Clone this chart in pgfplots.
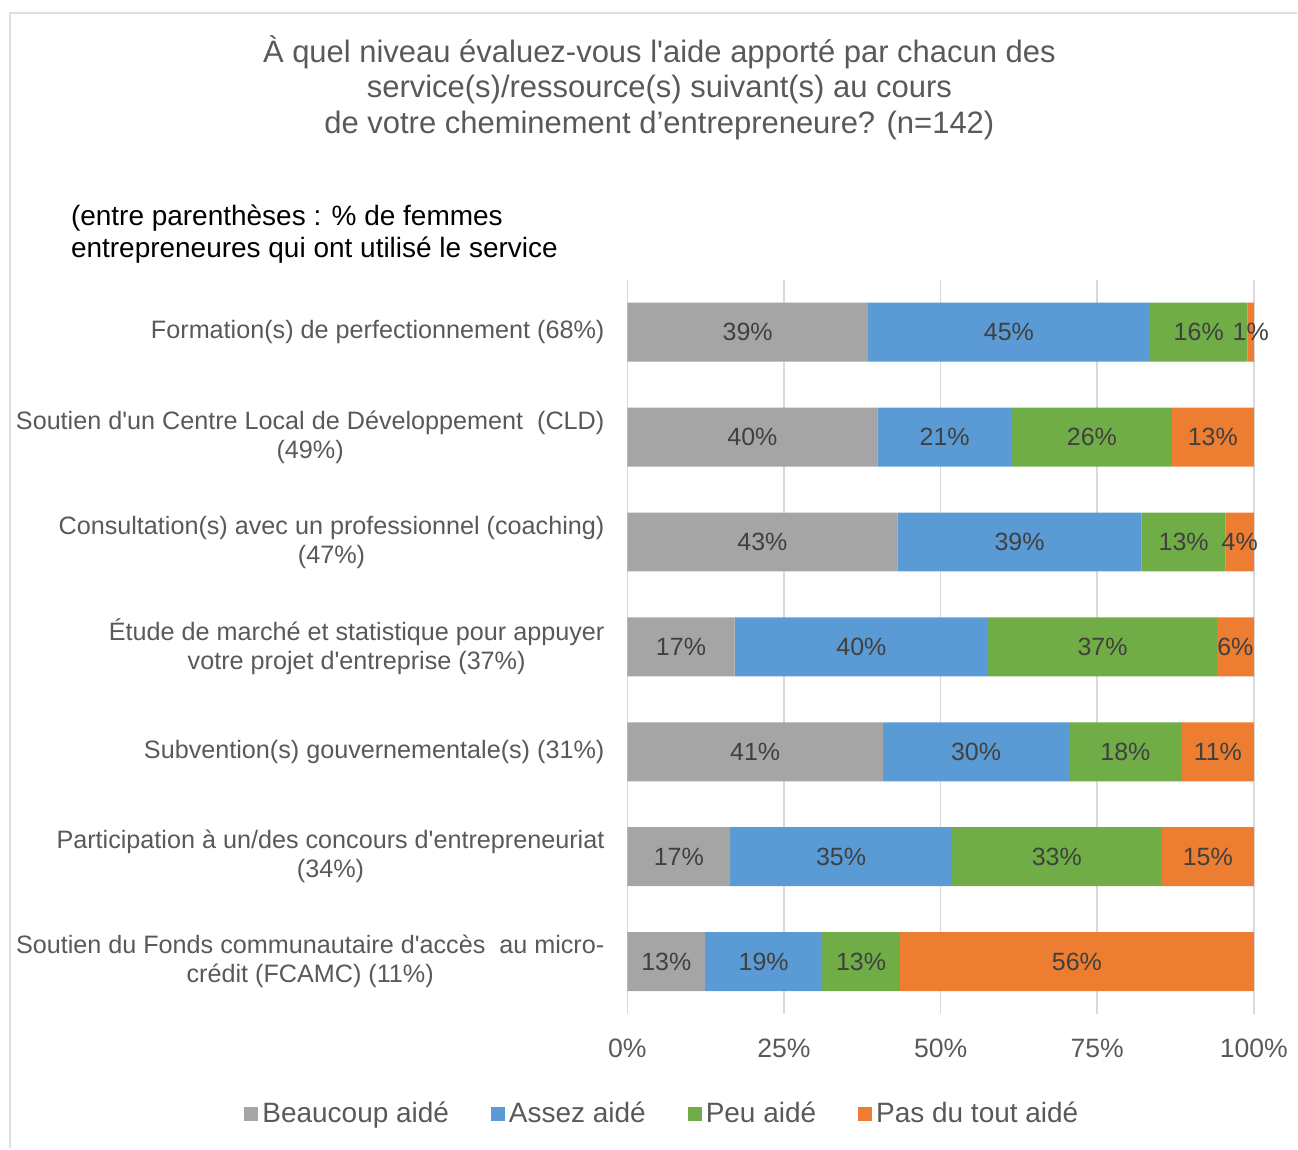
\documentclass[border=0pt]{standalone}
\usepackage{pgfplots}
\pgfplotsset{compat=1.18}
\usepackage{fontspec}
\newfontfamily\arialike{Liberation Sans}

\definecolor{beaucoup}{HTML}{A5A5A5}
\definecolor{assez}{HTML}{5B9BD5}
\definecolor{peu}{HTML}{70AD47}
\definecolor{pasdutout}{HTML}{ED7D31}
\definecolor{txtgray}{HTML}{595959}
\definecolor{lblgray}{HTML}{404040}
\definecolor{gridgray}{HTML}{D9D9D9}

\begin{document}
\arialike
\begin{tikzpicture}
\path (0,0) rectangle (649pt,574.5pt);
\draw[gray!25, line width=1.2pt] (5pt,0) -- (5pt,568pt) -- (649pt,568pt);

% titre
\begin{scope}[every node/.style={text=txtgray, font=\fontsize{15.5}{18}\selectfont, anchor=base}]
\node at (330pt,543pt) {À quel niveau évaluez-vous l'aide apporté par chacun des};
\node at (330pt,525.5pt) {service(s)/ressource(s) suivant(s) au cours};
\node at (330pt,507.5pt) {de votre cheminement d’entrepreneure? (n=142)};
\end{scope}
\begin{scope}[every node/.style={text=black, font=\fontsize{14}{16}\selectfont, anchor=base west}]
\node at (32pt,461.5pt) {(entre parenthèses : \% de  femmes};
\node at (32pt,445.5pt) {entrepreneures qui ont utilisé le service};
\end{scope}

\begin{axis}[
  at={(314pt,67pt)}, anchor=south west,
  scale only axis, width=313.5pt, height=367.5pt,
  xbar stacked, bar width=29.5pt,
  xmin=0, xmax=100, ymin=-0.5, ymax=6.5, y dir=reverse,
  axis line style={draw=none},
  major tick length=0pt,
  xmajorgrids, grid style={gridgray, line width=0.8pt},
  xtick={0,25,50,75,100},
  xticklabel={\pgfmathprintnumber{\tick}\%},
  /pgf/number format/assume math mode=true,
  xticklabel style={text=txtgray, font=\fontsize{13.3}{16}\selectfont, yshift=-9pt},
  ytick={0,...,6},
  yticklabels={
    {Formation(s) de perfectionnement (68\%)},
    {Soutien d'un Centre Local de Développement \ (CLD)\\(49\%)},
    {Consultation(s) avec un professionnel (coaching)\\(47\%)},
    {Étude de marché et statistique pour appuyer\\votre projet d'entreprise (37\%)},
    {Subvention(s) gouvernementale(s) (31\%)},
    {Participation à un/des concours d'entrepreneuriat\\(34\%)},
    {Soutien du Fonds communautaire d'accès \ au micro-\\crédit (FCAMC) (11\%)}},
  yticklabel style={text=txtgray, align=center, font=\fontsize{12.6}{14.5}\selectfont, xshift=-8pt},
  point meta=explicit symbolic,
  nodes near coords={\pgfplotspointmeta\%},
  every node near coord/.append style={anchor=center,
    text=lblgray, font=\fontsize{12.5}{14}\selectfont},
  legend columns=4,
  legend style={at={(0.0574,-0.136)}, anchor=center, draw=none, fill=none,
    text=txtgray, font=\fontsize{14}{16}\selectfont,
    /tikz/every even column/.append style={column sep=19pt}},
  legend image code/.code={\draw[#1, draw=none] (0pt,-3.5pt) rectangle (7pt,3.5pt);},
]
\addplot[fill=beaucoup, draw=none] coordinates {
  (38.4,0) [39] (39.9,1) [40] (43.1,2) [43] (17.1,3) [17]
  (40.8,4) [41] (16.4,5) [17] (12.4,6) [13]};
\addplot[fill=assez, draw=none] coordinates {
  (45.0,0) [45] (21.5,1) [21] (39.0,2) [39] (40.5,3) [40]
  (29.7,4) [30] (35.4,5) [35] (18.7,6) [19]};
\addplot[fill=peu, draw=none] coordinates {
  (15.6,0) [16] (25.5,1) [26] (13.4,2) [13] (36.5,3) [37]
  (18.0,4) [18] (33.5,5) [33] (12.4,6) [13]};
\addplot[fill=pasdutout, draw=none] coordinates {
  (1.0,0) [1] (13.1,1) [13] (4.5,2) [4] (5.9,3) [6]
  (11.5,4) [11] (14.7,5) [15] (56.5,6) [56]};
\legend{Beaucoup aidé, Assez aidé, Peu aidé, Pas du tout aidé}
\end{axis}
\end{tikzpicture}
\end{document}
